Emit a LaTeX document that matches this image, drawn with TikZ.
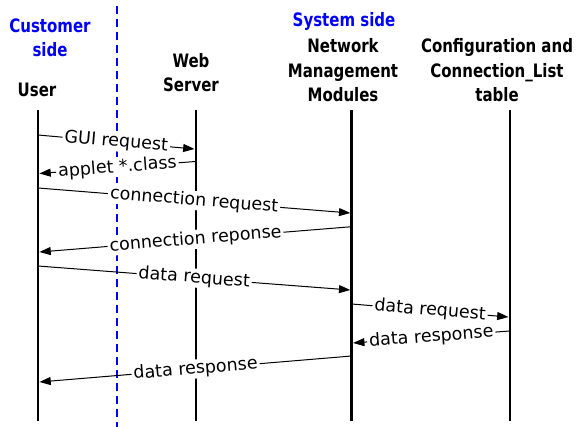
\documentclass[tikz,border=0pt]{standalone}
\usepackage{fontspec}
\setmainfont{DejaVu Sans}
\newfontfamily\hdrfont{DejaVu Sans}[FakeStretch=0.81]
\newfontfamily\lblfont{DejaVu Sans}
\usetikzlibrary{arrows.meta}
\definecolor{sideblue}{RGB}{0,0,255}
\begin{document}
\begin{tikzpicture}[x=0.75pt,y=-0.75pt,
  hdr/.style={font=\hdrfont\bfseries\fontsize{13.875pt}{18.5pt}\selectfont,
              align=center, inner sep=0pt, anchor=base},
  sidehdr/.style={hdr, text=sideblue},
  lifeline/.style={line width=#1},
  divider/.style={draw=sideblue, line width=0.8pt, dash pattern=on 6pt off 3.75pt},
  msg/.style={-{Triangle[length=8.5pt,width=6pt]}, line width=0.75pt},
  lbl/.style={sloped, midway, fill=white, inner xsep=1.5pt, inner ysep=0.8pt,
              font=\lblfont\fontsize{13.125pt}{15pt}\selectfont}]
\useasboundingbox (0,0) rectangle (577,427);

% column headings (anchored at the baseline of the last line)
\node[sidehdr] (cust) at (50,57) {Customer\\side};
\node[hdr] (user) at (37,97) {User};
\node[hdr] (web) at (191,92) {Web\\Server};
\node[sidehdr] (sys) at (344,26.7) {System side};
\node[hdr] (nmm) at (343,102) {Network\\Management\\Modules};
\node[hdr] (cfg) at (497,102) {Configuration and\\Connection\_List\\table};

% customer / system divider
\coordinate (dT) at (117,6);
\coordinate (dB) at (117,427);
\draw[divider] (dT) -- (dB);

% lifelines
\coordinate (uT) at (38,110);    \coordinate (uB) at (38,421);
\coordinate (wT) at (195.5,110); \coordinate (wB) at (195.5,421);
\coordinate (nT) at (351.7,110); \coordinate (nB) at (351.7,421);
\coordinate (cT) at (509.5,110); \coordinate (cB) at (509.5,421);
\draw[lifeline=2.1pt] (uT) -- (uB);
\draw[lifeline=1.5pt] (wT) -- (wB);
\draw[lifeline=2pt]   (nT) -- (nB);
\draw[lifeline=1.5pt] (cT) -- (cB);

% message end points
\coordinate (m1s) at (38,135);     \coordinate (m1e) at (194.5,149);
\coordinate (m2s) at (195.5,161.5);\coordinate (m2e) at (39.4,173.5);
\coordinate (m3s) at (38,188);     \coordinate (m3e) at (350.3,213);
\coordinate (m4s) at (351.7,226.7);\coordinate (m4e) at (39.4,252);
\coordinate (m5s) at (38,266);     \coordinate (m5e) at (350.3,290);
\coordinate (m6s) at (351.7,304);  \coordinate (m6e) at (508.5,317);
\coordinate (m7s) at (509.5,331);  \coordinate (m7e) at (353.1,343);
\coordinate (m8s) at (351.7,356);  \coordinate (m8e) at (39.4,382);

% messages
\draw[msg] (m1s) -- node[lbl] (l1) {GUI request} (m1e);
\draw[msg] (m2s) -- node[lbl] (l2) {applet *.class} (m2e);
\draw[msg] (m3s) -- node[lbl] (l3) {connection request} (m3e);
\draw[msg] (m4s) -- node[lbl] (l4) {connection reponse} (m4e);
\draw[msg] (m5s) -- node[lbl] (l5) {data request} (m5e);
\draw[msg] (m6s) -- node[lbl] (l6) {data request} (m6e);
\draw[msg] (m7s) -- node[lbl] (l7) {data response} (m7e);
\draw[msg] (m8s) -- node[lbl] (l8) {data response} (m8e);
\end{tikzpicture}
\end{document}
